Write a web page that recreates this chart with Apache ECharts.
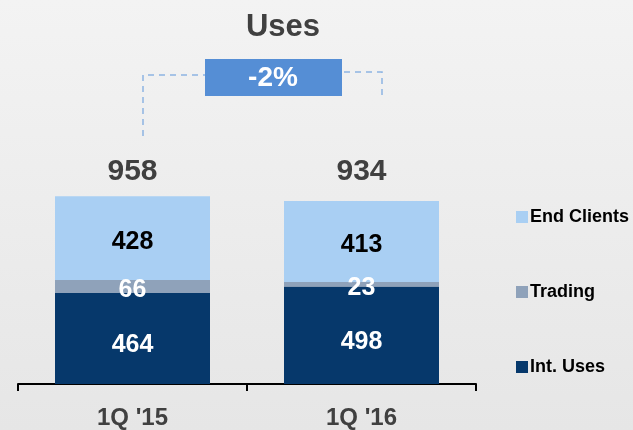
<!DOCTYPE html>
<html>
<head>
<meta charset="utf-8">
<script src="https://cdn.jsdelivr.net/npm/echarts@6/dist/echarts.min.js"></script>
<style>
    html, body { margin: 0; padding: 0; }
    #main { width: 633px; height: 430px; }
</style>
</head>
<body>
<div id="main"></div>
<script>
// 数据
var categories = ['1Q \'15', '1Q \'16'];
var intUses = [464, 498];
var trading = [66, 23];
var endClients = [428, 413];
var totals = [958, 934];
var changeText = '-2%';

var fontFamily = '"Liberation Sans", Arial, sans-serif';

/**
 * 段内标签
 */
function segLabel (color, offsetY) {
    return {
        show: true,
        position: 'inside',
        color: color,
        fontSize: 25,
        fontWeight: 'bold',
        fontFamily: fontFamily,
        offset: [0, offsetY || 0]
    };
}

var chart = echarts.init(document.getElementById('main'));
var option = {
    backgroundColor: {
        type: 'linear', x: 0, y: 0, x2: 0, y2: 1,
        colorStops: [{offset: 0, color: '#f3f3f3'}, {offset: 1, color: '#e6e6e6'}]
    },
    animation: false,
    title: {
        text: 'Uses',
        left: 278,
        textAlign: 'center',
        top: 7,
        textStyle: {
            fontSize: 31,
            fontWeight: 'bold',
            color: '#404040',
            fontFamily: fontFamily
        }
    },
    legend: {
        data: ['End Clients', 'Trading', 'Int. Uses'],
        orient: 'vertical',
        left: 511,
        top: 203,
        itemWidth: 12,
        itemHeight: 12,
        itemGap: 57,
        icon: 'rect',
        textStyle: {
            fontSize: 18,
            lineHeight: 18,
            fontWeight: 'bold',
            color: '#000',
            fontFamily: fontFamily,
            padding: [0, 0, 0, -3]
        }
    },
    grid: {
        left: 18,
        right: 157,
        top: 188,
        bottom: 45
    },
    xAxis: [
        {
            type: 'category',
            data: categories,
            axisLine: { lineStyle: { color: '#000', width: 2 } },
            axisTick: { show: true, length: 7, lineStyle: { color: '#000', width: 2 } },
            axisLabel: {
                margin: 22,
                fontSize: 24,
                fontWeight: 'bold',
                color: '#404040',
                fontFamily: fontFamily
            }
        },
        {
            // 合计显示在顶部
            type: 'category',
            position: 'top',
            data: totals.map(String),
            axisLine: { show: false },
            axisTick: { show: false },
            axisLabel: {
                margin: 1,
                fontSize: 30,
                fontWeight: 'bold',
                color: '#404040',
                fontFamily: fontFamily
            }
        }
    ],
    yAxis: {
        type: 'value',
        min: 0,
        max: 1000,
        show: false,
        splitLine: { show: false }
    },
    series: [
        {
            name: 'Int. Uses',
            type: 'bar',
            stack: 'total',
            barWidth: 155,
            data: intUses,
            itemStyle: { color: '#06386b' },
            label: segLabel('#fff', 7)
        },
        {
            name: 'Trading',
            type: 'bar',
            stack: 'total',
            data: trading,
            itemStyle: { color: '#8fa2ba' },
            label: segLabel('#fff', 4)
        },
        {
            name: 'End Clients',
            type: 'bar',
            stack: 'total',
            data: endClients,
            itemStyle: { color: '#a9cff3' },
            label: segLabel('#000', 4)
        }
    ],
    graphic: [
        {
            type: 'polyline',
            shape: { points: [[143, 136], [143, 75], [205, 75]] },
            style: { stroke: '#8db4e2', lineWidth: 1.5, lineDash: [6, 5], fill: null }
        },
        {
            type: 'polyline',
            shape: { points: [[344, 72], [382, 72], [382, 98]] },
            style: { stroke: '#8db4e2', lineWidth: 1.5, lineDash: [6, 5], fill: null }
        },
        {
            type: 'rect',
            shape: { x: 205, y: 59, width: 137, height: 37 },
            style: { fill: '#558ed5' }
        },
        {
            type: 'text',
            x: 273,
            y: 78,
            style: {
                text: changeText,
                fill: '#fff',
                font: 'bold 28px ' + fontFamily,
                align: 'center',
                verticalAlign: 'middle'
            }
        }
    ]
};

chart.setOption(option);
</script>
</body>
</html>
